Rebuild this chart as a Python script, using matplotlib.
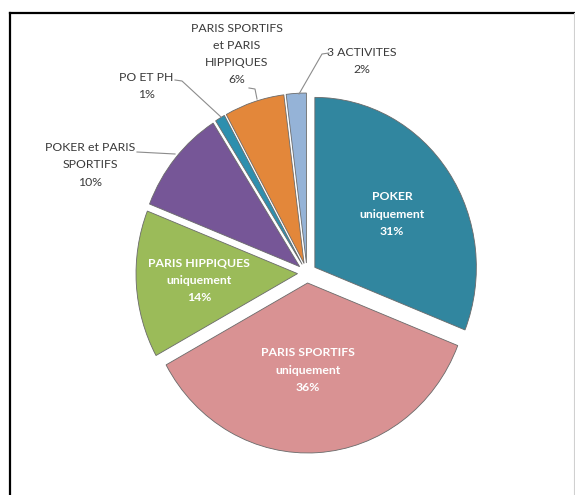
import matplotlib
matplotlib.use("Agg")
import matplotlib.pyplot as plt
from matplotlib.lines import Line2D

# ---- data ----
categories = [
    "POKER\nuniquement",
    "PARIS SPORTIFS\nuniquement",
    "PARIS HIPPIQUES\nuniquement",
    "POKER et PARIS\nSPORTIFS",
    "PO ET PH",
    "PARIS SPORTIFS\net PARIS\nHIPPIQUES",
    "3 ACTIVITES",
]
values = [31, 36, 14, 10, 1, 6, 2]
colors = ["#31869F", "#D99293", "#9BBB59", "#765697", "#2E8FAE", "#E3873A", "#95B3D7"]
inside = [True, True, True, False, False, False, False]

# ---- layout (pixels) ----
W, H = 575, 495
K = 0.95                   # horizontal squeeze of the reference image
cx, cy = 307, 273          # pie centre (pixel, y down)
R = 170
EXPL = 10

def X(px):
    return px / K

def Y(py):
    return H - py

fig = plt.figure(figsize=(W / 100, H / 100), dpi=100)
ax = fig.add_axes([0, 0, 1, 1])
wedges, _ = ax.pie(values, colors=colors, startangle=90, counterclock=False,
                   explode=[EXPL] * len(values), radius=R, center=(X(cx), Y(cy)),
                   wedgeprops=dict(edgecolor="#6a6a6a", linewidth=0.6))
ax.set_xlim(0, W / K)
ax.set_ylim(0, H)
ax.set_aspect("auto")
ax.axis("off")

font = ["Lato", "DejaVu Sans"]
label_pos = [
    (392, 214), (308, 370), (199, 280),
    (90, 165), (146, 86), (237, 54), (362, 61),
]
for cat, v, ins, (lx, ly) in zip(categories, values, inside, label_pos):
    txt = f"{cat}\n{v}%"
    if ins:
        ax.text(X(lx), Y(ly), txt, ha="center", va="center", color="white",
                fontsize=8.8, fontweight="bold", family=font, linespacing=1.7)
    else:
        ax.text(X(lx), Y(ly), txt, ha="center", va="center", color="#3a3a3a",
                fontsize=8.8, family=font, linespacing=1.7)

# leader lines
leaders = [
    [(137, 152), (175, 154)],
    [(175, 80), (182, 81), (221, 117)],
    [(249, 88), (255, 89), (257, 99)],
    [(329, 53), (322, 54), (299, 94)],
]
for pts in leaders:
    ax.plot([X(p[0]) for p in pts], [Y(p[1]) for p in pts],
            color="#8c8c8c", linewidth=0.8)

# outer frame (left and top edges visible)
fig.add_artist(Line2D([10 / W, 10 / W], [0, 1 - 13 / H], color="black", linewidth=1.6))
fig.add_artist(Line2D([10 / W, 1], [1 - 13 / H, 1 - 13 / H], color="black", linewidth=1.6))
fig.add_artist(Line2D([574 / W, 574 / W], [0, 1 - 13 / H], color="#d0d0d0", linewidth=0.8))

fig.savefig("out.png", dpi=100, facecolor="white")
